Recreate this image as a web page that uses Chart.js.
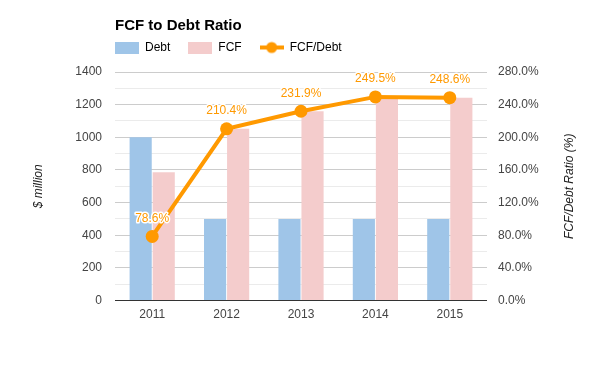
<!DOCTYPE html>
<html>
<head>
<meta charset="utf-8">
<script src="https://cdn.jsdelivr.net/npm/chart.js@4"></script>
<style>
  html, body { margin: 0; padding: 0; background: #fff; }
  #wrap { width: 600px; height: 371px; }
</style>
</head>
<body>
<div id="wrap"><canvas id="chart" width="600" height="371"></canvas></div>
<script>
const years = ['2011', '2012', '2013', '2014', '2015'];
const debt = [1000, 500, 500, 500, 500];
const fcf = [786, 1052, 1160, 1248, 1243];
const ratio = [78.6, 210.4, 231.9, 249.5, 248.6];

const FONT = "'Liberation Sans', Arial, sans-serif";
const ORANGE = '#ff9900';

// legend swatches drawn as small canvases
function swatch(color) {
  const c = document.createElement('canvas');
  c.width = 24; c.height = 12;
  const g = c.getContext('2d');
  g.fillStyle = color;
  g.fillRect(0, 0, 24, 12);
  return c;
}
function lineSwatch() {
  const c = document.createElement('canvas');
  c.width = 24; c.height = 14;
  const g = c.getContext('2d');
  g.strokeStyle = ORANGE;
  g.lineWidth = 4;
  g.beginPath(); g.moveTo(0, 7); g.lineTo(24, 7); g.stroke();
  g.fillStyle = ORANGE;
  g.beginPath(); g.arc(12, 7, 5.5, 0, Math.PI * 2); g.fill();
  return c;
}
const legendIcons = [swatch('#9fc5e8'), swatch('#f4cccc'), lineSwatch()];

// value labels above the line points + right axis title
const extras = {
  id: 'extras',
  beforeDraw(chart) {
    const lg = chart.legend;
    lg.left = chart.chartArea.left - lg.options.labels.padding;
    lg.top = 23.5;
  },
  afterDatasetsDraw(chart) {
    const ctx = chart.ctx;
    const meta = chart.getDatasetMeta(2);
    ctx.save();
    ctx.font = '12px ' + FONT;
    ctx.textAlign = 'center';
    ctx.textBaseline = 'middle';
    meta.data.forEach((pt, i) => {
      const txt = ratio[i].toFixed(1) + '%';
      ctx.lineWidth = 3;
      ctx.strokeStyle = '#fff';
      ctx.lineJoin = 'round';
      ctx.strokeText(txt, pt.x, pt.y - 18);
      ctx.fillStyle = ORANGE;
      ctx.fillText(txt, pt.x, pt.y - 18);
    });
    ctx.restore();
  },
  afterDraw(chart) {
    const ctx = chart.ctx;
    const a = chart.chartArea;
    ctx.save();
    ctx.translate(570, (a.top + a.bottom) / 2);
    ctx.rotate(-Math.PI / 2);
    ctx.font = 'italic 12px ' + FONT;
    ctx.fillStyle = '#222';
    ctx.textAlign = 'center';
    ctx.textBaseline = 'middle';
    ctx.fillText('FCF/Debt Ratio (%)', 0, 0);
    ctx.restore();
  }
};

new Chart(document.getElementById('chart'), {
  type: 'bar',
  data: {
    labels: years,
    datasets: [
      {
        label: 'Debt',
        data: debt,
        backgroundColor: '#9fc5e8',
        yAxisID: 'y',
        order: 1,
        barPercentage: 0.96,
        categoryPercentage: 0.62
      },
      {
        label: 'FCF',
        data: fcf,
        backgroundColor: '#f4cccc',
        yAxisID: 'y',
        order: 1,
        barPercentage: 0.96,
        categoryPercentage: 0.62
      },
      {
        type: 'line',
        label: 'FCF/Debt',
        data: ratio,
        borderColor: ORANGE,
        backgroundColor: ORANGE,
        borderWidth: 4,
        pointRadius: 6.5,
        pointBackgroundColor: ORANGE,
        pointBorderWidth: 0,
        yAxisID: 'y1',
        order: 0
      }
    ]
  },
  options: {
    responsive: false,
    animation: false,
    layout: { padding: { top: 0, bottom: 42, left: 0, right: 0 } },
    plugins: {
      title: {
        display: true,
        text: 'FCF to Debt Ratio',
        align: 'start',
        fullSize: false,
        color: '#000',
        font: { family: FONT, size: 15, weight: 'bold' },
        padding: { top: 17, bottom: -3 }
      },
      legend: {
        align: 'start',
        fullSize: false,
        labels: {
          usePointStyle: true,
          pointStyleWidth: 24,
          padding: 18,
          color: '#222',
          font: { family: FONT, size: 12 },
          generateLabels(chart) {
            return chart.data.datasets.map((ds, i) => ({
              text: ds.label,
              pointStyle: legendIcons[i],
              fillStyle: ds.backgroundColor,
              strokeStyle: 'transparent',
              lineWidth: 0,
              hidden: false,
              datasetIndex: i
            }));
          }
        }
      },
      tooltip: { enabled: false }
    },
    scales: {
      x: {
        grid: { display: false, drawTicks: false },
        border: { display: false },
        ticks: { color: '#444', font: { family: FONT, size: 12 }, padding: 7 }
      },
      y: {
        position: 'left',
        min: 0,
        max: 1400,
        afterFit(s) { s.width = 115; },
        border: { display: false },
        grid: {
          drawTicks: false,
          color: c => c.tick.value === 0 ? '#333' : (c.tick.value % 200 === 0 ? '#cccccc' : '#ebebeb')
        },
        ticks: {
          stepSize: 100,
          autoSkip: false,
          padding: 13,
          color: '#444',
          font: { family: FONT, size: 12 },
          callback: v => v % 200 === 0 ? String(v) : ''
        },
        title: {
          display: true,
          text: '$ million',
          color: '#222',
          font: { family: FONT, size: 12, style: 'italic' },
          padding: { top: 31, bottom: 0 }
        }
      },
      y1: {
        position: 'right',
        min: 0,
        max: 280,
        afterFit(s) { s.width = 113; },
        border: { display: false },
        grid: { display: false, drawTicks: false },
        ticks: {
          stepSize: 40,
          padding: 11,
          color: '#444',
          font: { family: FONT, size: 12 },
          callback: v => v.toFixed(1) + '%'
        }
      }
    }
  },
  plugins: [extras]
});
</script>
</body>
</html>
